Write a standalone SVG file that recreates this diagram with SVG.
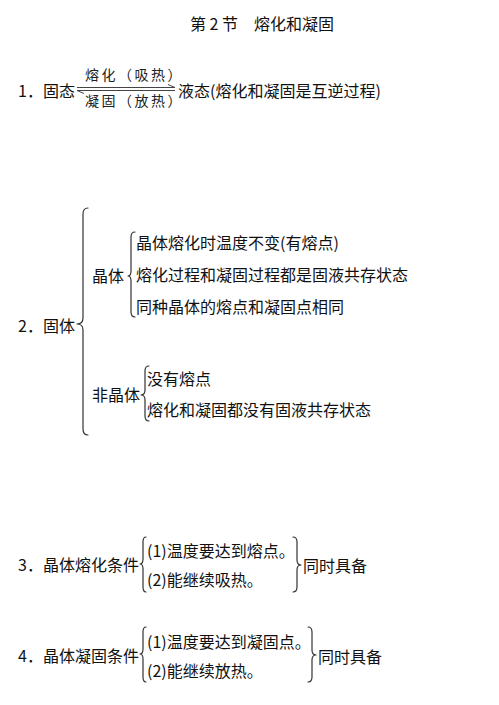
<svg xmlns="http://www.w3.org/2000/svg" width="499" height="705" viewBox="0 0 499 705">
<defs>
<style>
text{font-family:"Microsoft YaHei","Noto Sans CJK SC","Noto Sans",sans-serif;font-size:16px;fill:#111}
.lbl{font-size:14px;letter-spacing:2.5px;fill:#222}
.br{fill:none;stroke:#333;stroke-width:1.2;stroke-linecap:round;stroke-linejoin:round}
.ar{fill:none;stroke:#444;stroke-width:1}
</style>
</defs>
<rect width="499" height="705" fill="#fff"/>
<g id="title"><text x="190" y="30">第 2 节　熔化和凝固</text></g>

<g id="n1">
<text x="18" y="97">1．固态</text>
<text class="lbl" x="85" y="80">熔化（吸热）</text>
<text class="lbl" x="85" y="106">凝固（放热）</text>
<text x="178" y="97">液态(熔化和凝固是互逆过程)</text>
</g>

<g id="n2"><text x="18" y="332">2．固体</text></g>
<g id="n2a"><text x="92" y="282">晶体</text></g>
<g id="n2a1"><text x="136" y="249">晶体熔化时温度不变(有熔点)</text></g>
<g id="n2a2"><text x="136" y="281">熔化过程和凝固过程都是固液共存状态</text></g>
<g id="n2a3"><text x="136" y="313">同种晶体的熔点和凝固点相同</text></g>
<g id="n2b"><text x="92" y="401">非晶体</text></g>
<g id="n2b1"><text x="147" y="385">没有熔点</text></g>
<g id="n2b2"><text x="147" y="416">熔化和凝固都没有固液共存状态</text></g>

<g id="n3"><text x="18" y="571">3．晶体熔化条件</text></g>
<g id="n3a"><text x="147" y="557">(1)温度要达到熔点。</text></g>
<g id="n3b"><text x="147" y="586">(2)能继续吸热。</text></g>
<g id="n3c"><text x="303" y="572">同时具备</text></g>

<g id="n4"><text x="18" y="662">4．晶体凝固条件</text></g>
<g id="n4a"><text x="147" y="648">(1)温度要达到凝固点。</text></g>
<g id="n4b"><text x="147" y="677">(2)能继续放热。</text></g>
<g id="n4c"><text x="318" y="663">同时具备</text></g>

<g id="connectors">
<path class="ar" d="M77,87.5 H175 M175,87.5 L168,84.5"/>
<path class="ar" d="M77,90.5 H175 M77,90.5 L84,93.5"/>
<path class="br" d="M88,208 Q83,208 83,214 L83,318 Q83,324 77,324 Q83,324 83,330 L83,429 Q83,435 88,435"/>
<path class="br" d="M135,232 Q131,232 131,237 L131,271 Q131,276 128,276 Q131,276 131,281 L131,312 Q131,317 135,317"/>
<path class="br" d="M149,366 Q145,366 145,371 L145,390 Q145,395 141,395 Q145,395 145,400 L145,416 Q145,421 149,421"/>
<path class="br" d="M146,537 Q143,537 143,542 L143,559 Q143,564 140,564 Q143,564 143,569 L143,587 Q143,592 146,592"/>
<path class="br" d="M146,627 Q143,627 143,632 L143,649 Q143,654 140,654 Q143,654 143,659 L143,677 Q143,682 146,682"/>
<path class="br" d="M293,537 Q297,537 297,542 L297,560 Q297,565 301,565 Q297,565 297,570 L297,587 Q297,592 293,592"/>
<path class="br" d="M308,627 Q312,627 312,632 L312,650 Q312,655 316,655 Q312,655 312,660 L312,677 Q312,682 308,682"/>
</g>
</svg>
